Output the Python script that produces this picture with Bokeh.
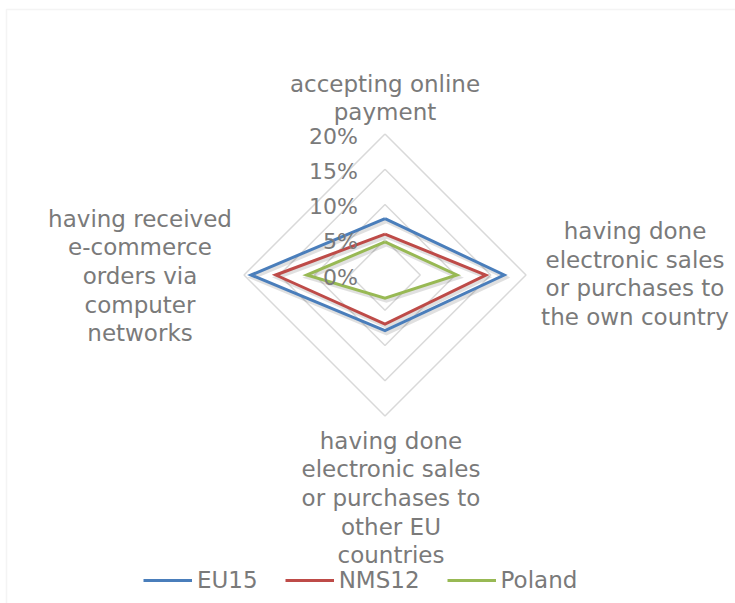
import numpy as np
from bokeh.plotting import figure
from bokeh.models import Range1d, Legend, LegendItem, BoxAnnotation
from bokeh.core.properties import value
from bokeh.embed import file_html
from bokeh.resources import INLINE

# ---- data ----
categories = [
    "accepting online\npayment",
    "having done\nelectronic sales\nor purchases to\nthe own country",
    "having done\nelectronic sales\nor purchases to\nother EU\ncountries",
    "having received\ne-commerce\norders via\ncomputer\nnetworks",
]
series_names = ["EU15", "NMS12", "Poland"]
eu15 = [8.0, 16.9, 7.9, 19.0]
nms12 = [5.8, 14.3, 6.95, 15.5]
poland = [4.7, 10.2, 3.3, 11.1]
ring_values = [5, 10, 15, 20]
tick_values = [0, 5, 10, 15, 20]
tick_labels = ["0%", "5%", "10%", "15%", "20%"]
colors = ["#4A7EBB", "#BE4B48", "#98B954"]

# ---- layout ----
W, H = 735, 603
scale = 141 / 20.0          # px per percentage point
cx, cy = 384.5, 274.5       # centre in figure pixels (from top-left)
x0 = -cx / scale
x1 = (W - cx) / scale
y1 = cy / scale
y0 = -(H - cy) / scale

FONT = "DejaVu Sans"
TXT = "#7a7a7a"

p = figure(width=W, height=H, output_backend="svg", toolbar_location=None,
           x_range=Range1d(x0, x1), y_range=Range1d(y0, y1), min_border=0)
p.axis.visible = False
p.grid.visible = False
p.outline_line_color = None
p.background_fill_color = "white"
p.border_fill_color = "white"

# chart-area border (left & top visible, right & bottom beyond the window)
p.add_layout(BoxAnnotation(left=x0 + 6 / scale, right=x1 + 10 / scale,
                           top=y1 - 9 / scale, bottom=y0 - 10 / scale,
                           fill_alpha=0, line_color="#d9d9d9", line_width=1.5))

angles = np.deg2rad([90, 0, -90, 180])
ca, sa = np.cos(angles), np.sin(angles)

def poly(vals):
    v = np.asarray(vals, dtype=float)
    xs = list(v * ca) + [v[0] * ca[0]]
    ys = list(v * sa) + [v[0] * sa[0]]
    return xs, ys

# rings
for r in ring_values:
    xs, ys = poly([r] * 4)
    p.line(xs, ys, line_color="#d9d9d9", line_width=1.5)

# shadows
dx, dy = 1.5 / scale, -2.5 / scale
for vals in [eu15, nms12, poland]:
    xs, ys = poly(vals)
    p.line([x + dx for x in xs], [y + dy for y in ys], line_color="black",
           line_alpha=0.12, line_width=4, line_join="miter")

renderers = []
for vals, c in zip([eu15, nms12, poland], colors):
    xs, ys = poly(vals)
    r = p.line(xs, ys, line_color=c, line_width=3, line_join="miter")
    renderers.append(r)

# tick labels
p.text(x=[0] * len(tick_values), y=tick_values, text=tick_labels,
       text_align="right", text_baseline="middle", x_offset=-27, y_offset=2,
       text_font=value(FONT), text_font_size="22px", text_color=TXT)

# category labels
R = ring_values[-1]
lab_x = [0, R, 0, -R]
lab_y = [R, 0, -R, 0]
xoff = [0, 109, 6, -104]
yoff = [-36, -1, 82, 1]
for i in range(4):
    p.text(x=[lab_x[i]], y=[lab_y[i]], text=[categories[i]],
           text_align="center", text_baseline="middle",
           x_offset=xoff[i], y_offset=yoff[i], text_line_height=1.1,
           text_font=value(FONT), text_font_size="23px", text_color=TXT)

legend = Legend(items=[LegendItem(label=n, renderers=[r]) for n, r in zip(series_names, renderers)],
                orientation="horizontal", location=(143, 10),
                glyph_width=49, glyph_height=26, label_height=26,
                label_standoff=5, spacing=27, padding=0, margin=0,
                border_line_color=None, background_fill_alpha=0,
                label_text_font=FONT, label_text_font_size="23px",
                label_text_color=TXT)
p.add_layout(legend, "center")

open("out.html", "w").write(file_html(p, INLINE))
